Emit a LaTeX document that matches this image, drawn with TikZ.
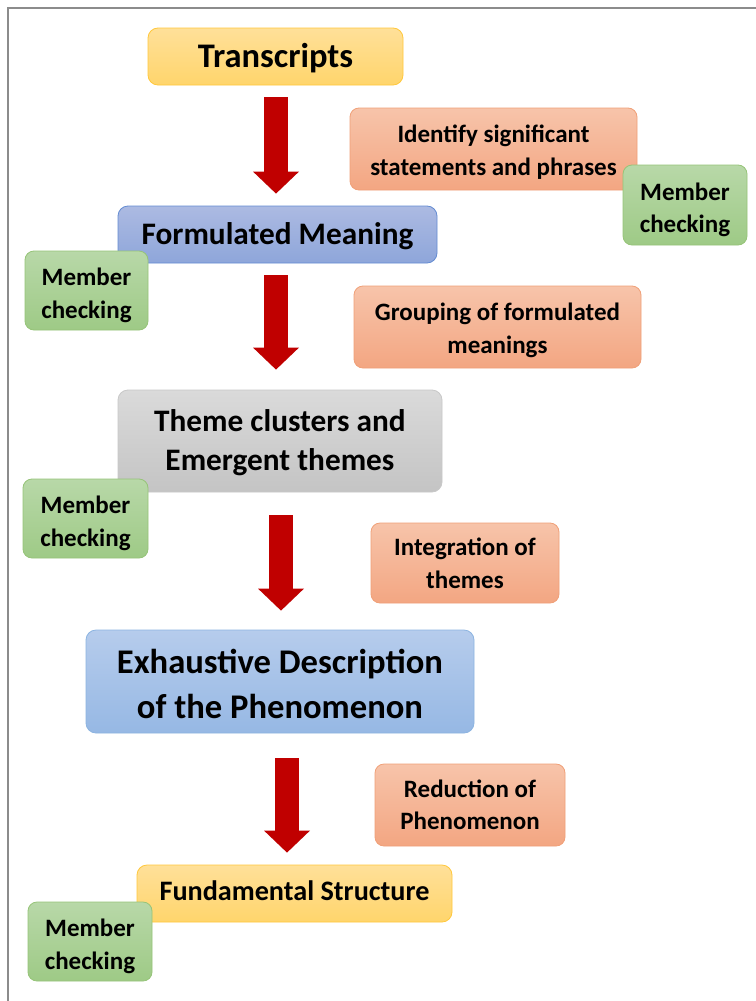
\documentclass[tikz,border=0pt]{standalone}
\usepackage{fontspec}
\setmainfont{Carlito}
\usetikzlibrary{arrows.meta}
\definecolor{arrowred}{HTML}{C00000}
\definecolor{frameg}{HTML}{8C8C8C}
\newcommand{\lowtext}[2][3.5pt]{\raisebox{-#1}[\height][\depth]{\begin{tabular}{@{}c@{}}#2\end{tabular}}}
\tikzset{
  box/.style={rectangle, rounded corners=10pt, inner sep=0pt, align=center, line width=0.8pt, font=\bfseries},
  yellowbox/.style={box, draw={rgb,255:red,255;green,200;blue,60}, top color={rgb,255:red,255;green,224;blue,153}, bottom color={rgb,255:red,255;green,213;blue,108}},
  bluebox/.style={box, draw={rgb,255:red,100;green,140;blue,210}, top color={rgb,255:red,172;green,186;blue,226}, bottom color={rgb,255:red,142;green,166;blue,218}},
  graybox/.style={box, draw={rgb,255:red,200;green,200;blue,200}, top color={rgb,255:red,218;green,218;blue,218}, bottom color={rgb,255:red,196;green,196;blue,196}},
  lbluebox/.style={box, draw={rgb,255:red,140;green,180;blue,225}, top color={rgb,255:red,182;green,204;blue,236}, bottom color={rgb,255:red,150;green,184;blue,228}},
  orangebox/.style={box, rounded corners=9pt, draw={rgb,255:red,240;green,160;blue,120}, top color={rgb,255:red,247;green,196;blue,170}, bottom color={rgb,255:red,243;green,166;blue,130}},
  greenbox/.style={box, rounded corners=9pt, draw={rgb,255:red,150;green,196;blue,120}, top color={rgb,255:red,184;green,216;blue,168}, bottom color={rgb,255:red,158;green,202;blue,134}},
  blockarrow/.style={draw=arrowred, line width=24pt, -{Triangle[width=46pt,length=22pt,line width=0pt,fill=arrowred]}},
  smalltext/.style={font=\bfseries\fontsize{25}{32.5}\selectfont},
}
\begin{document}
\begin{tikzpicture}[x=1pt,y=-1pt]
\useasboundingbox (0,0) rectangle (755,1001);
\fill[white] (0,0) rectangle (755,1001);
\draw[frameg, line width=2pt] (8,1010) -- (8,8) -- (765,8);

\node[yellowbox, minimum width=255pt, minimum height=57pt, font=\bfseries\fontsize{34.5}{40}\selectfont] (trans) at (275.5,56.5) {\lowtext[3pt]{Transcripts}};
\node[bluebox, minimum width=319pt, minimum height=57pt, font=\bfseries\fontsize{31.3}{36}\selectfont] (form) at (277.5,234.5) {\lowtext[3pt]{Formulated Meaning}};
\node[greenbox, minimum width=123pt, minimum height=79pt, smalltext] (mc1) at (86.5,290.5) {\lowtext[5pt]{Member\\checking}};
\node[orangebox, minimum width=287pt, minimum height=82pt, smalltext] (ident) at (493.5,149) {\lowtext{Identify significant\\statements and phrases}};
\node[greenbox, minimum width=124pt, minimum height=80pt, smalltext] (mc2) at (685,205) {\lowtext[5pt]{Member\\checking}};
\node[orangebox, minimum width=287pt, minimum height=82pt, smalltext] (group) at (497.5,327) {\lowtext{Grouping of formulated\\meanings}};
\node[graybox, minimum width=324pt, minimum height=102pt, font=\bfseries\fontsize{31.3}{39}\selectfont] (theme) at (280,441) {\lowtext[2pt]{Theme clusters and\\Emergent themes}};
\node[greenbox, minimum width=125pt, minimum height=79pt, smalltext] (mc3) at (85.5,518.5) {\lowtext[5pt]{Member\\checking}};
\node[orangebox, minimum width=188pt, minimum height=80pt, smalltext] (integ) at (465,563) {\lowtext[2.5pt]{Integration of\\themes}};
\node[lbluebox, minimum width=388pt, minimum height=103pt, font=\bfseries\fontsize{34.6}{45}\selectfont] (exh) at (280,681.5) {\lowtext[5.5pt]{Exhaustive Description\\of the Phenomenon}};
\node[orangebox, minimum width=190pt, minimum height=82pt, smalltext] (red) at (470,805) {\lowtext[2pt]{Reduction of\\Phenomenon}};
\node[yellowbox, minimum width=315pt, minimum height=57pt, font=\bfseries\fontsize{28.2}{34}\selectfont] (fund) at (294.5,893.5) {\lowtext[0pt]{Fundamental Structure}};
\node[greenbox, minimum width=124pt, minimum height=79pt, smalltext] (mc4) at (90,941.5) {\lowtext[5pt]{Member\\checking}};

\coordinate (a1) at (276,0);
\coordinate (a2) at (276,0);
\coordinate (a3) at (281,0);
\coordinate (a4) at (287,0);
\draw[blockarrow, shorten <=12pt, shorten >=12pt] (trans.south -| a1) -- (form.north -| a1);
\draw[blockarrow, shorten <=12pt, shorten >=20pt] (form.south -| a2) -- (theme.north -| a2);
\draw[blockarrow, shorten <=23pt, shorten >=19pt] (theme.south -| a3) -- (exh.north -| a3);
\draw[blockarrow, shorten <=25pt, shorten >=12pt] (exh.south -| a4) -- (fund.north -| a4);
\end{tikzpicture}
\end{document}
